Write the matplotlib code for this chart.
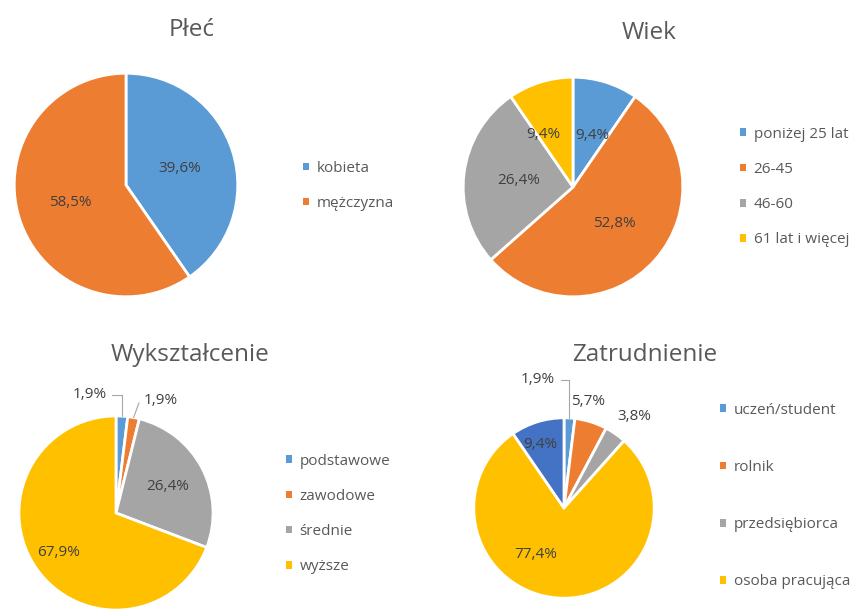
import numpy as np
import matplotlib
matplotlib.use("Agg")
from matplotlib import pyplot as plt
from matplotlib.patches import Patch

plt.rcParams["font.family"] = ["Open Sans", "DejaVu Sans"]

BLUE = "#5B9BD5"
ORANGE = "#ED7D31"
GRAY = "#A5A5A5"
GOLD = "#FFC000"
DARKBLUE = "#4472C4"
TEXT = "#595959"
LABEL = "#404040"

# Płeć
sex_labels = ["kobieta", "mężczyzna"]
sex_values = [39.6, 58.5]

# Wiek
age_labels = ["poniżej 25 lat", "26-45", "46-60", "61 lat i więcej"]
age_values = [9.4, 52.8, 26.4, 9.4]

# Wykształcenie
edu_labels = ["podstawowe", "zawodowe", "średnie", "wyższe"]
edu_values = [1.9, 1.9, 26.4, 67.9]

# Zatrudnienie (last slice has no legend entry)
job_labels = ["uczeń/student", "rolnik", "przedsiębiorca", "osoba pracująca"]
job_values = [1.9, 5.7, 3.8, 77.4, 9.4]

W, H = 864, 612
fig = plt.figure(figsize=(W / 100, H / 100), dpi=100)


def pie_axes(cx, cy, r):
    # cx, cy, r in pixels from the top-left corner
    return fig.add_axes([(cx - r) / W, 1 - (cy + r) / H, 2 * r / W, 2 * r / H])


def fmt(v):
    return f"{v:.1f}%".replace(".", ",")


def draw_pie(ax, values, colors, inside, outside=None):
    wedges, _ = ax.pie(values, colors=colors, startangle=90, counterclock=False,
                       radius=1, wedgeprops=dict(edgecolor="white", linewidth=2))
    ax.set_xlim(-1.02, 1.02)
    ax.set_ylim(-1.02, 1.02)
    ax.set_aspect("equal")
    ax.axis("off")
    for i, w in enumerate(wedges):
        mid = np.deg2rad((w.theta1 + w.theta2) / 2)
        if i in inside:
            dist, shift = inside[i]
            ang = mid + np.deg2rad(shift)
            ax.text(dist * np.cos(ang), dist * np.sin(ang), fmt(values[i]),
                    ha="center", va="center", fontsize=11, color=LABEL)
        elif outside and i in outside:
            tx, ty, ha, conn = outside[i]
            ax.annotate(fmt(values[i]), xy=(np.cos(mid), np.sin(mid)),
                        xytext=(tx, ty), ha=ha, va="center", fontsize=11,
                        color=LABEL, annotation_clip=False,
                        arrowprops=None if conn is None else dict(
                            arrowstyle="-", color="#A6A6A6", lw=0.8,
                            shrinkA=2, shrinkB=0, connectionstyle=conn))
    return wedges


def add_legend(labels, colors, x, y, spacing):
    handles = [Patch(facecolor=c, edgecolor="none") for c in colors]
    fig.legend(handles, labels, loc="center left",
               bbox_to_anchor=(x / W, 1 - y / H), bbox_transform=fig.transFigure,
               frameon=False, fontsize=11, labelcolor=TEXT,
               handlelength=0.4, handleheight=0.4, handletextpad=0.5,
               labelspacing=spacing, borderpad=0, borderaxespad=0)


def add_title(text, x, y):
    fig.text(x / W, 1 - y / H, text, ha="center", va="center",
             fontsize=17.5, color=TEXT)


# Płeć
ax1 = pie_axes(126, 185, 114)
draw_pie(ax1, sex_values, [BLUE, ORANGE], {0: (0.5, 0), 1: (0.52, 0)})
add_title("Płeć", 192, 30)
add_legend(sex_labels, [BLUE, ORANGE], 303, 186, 1.3)

# Wiek
ax2 = pie_axes(573, 187, 112)
draw_pie(ax2, age_values, [BLUE, ORANGE, GRAY, GOLD],
         {0: (0.5, -3), 1: (0.5, 0), 2: (0.5, 0), 3: (0.55, 12)})
add_title("Wiek", 649, 33)
add_legend(age_labels, [BLUE, ORANGE, GRAY, GOLD], 740, 187, 1.33)

# Wykształcenie
ax3 = pie_axes(116, 513, 99)
draw_pie(ax3, edu_values, [BLUE, ORANGE, GRAY, GOLD],
         {2: (0.6, 0), 3: (0.72, 0)},
         {0: (-0.1, 1.22, "right", "angle,angleA=0,angleB=90,rad=0"),
          1: (0.28, 1.16, "left", "angle,angleA=180,angleB=70,rad=0")})
add_title("Wykształcenie", 190, 355)
add_legend(edu_labels, [BLUE, ORANGE, GRAY, GOLD], 286, 514, 1.32)

# Zatrudnienie
ax4 = pie_axes(564, 508, 92)
draw_pie(ax4, job_values, [BLUE, ORANGE, GRAY, GOLD, DARKBLUE],
         {3: (0.6, -28), 4: (0.75, 3)},
         {0: (-0.1, 1.42, "right", "angle,angleA=0,angleB=90,rad=0"),
          1: (0.27, 1.18, "center", None),
          2: (0.78, 1.02, "center", None)})
add_title("Zatrudnienie", 645, 355)
add_legend(job_labels, [BLUE, ORANGE, GRAY, GOLD], 720, 496, 2.77)

fig.savefig("out.png", dpi=100, facecolor="white")
